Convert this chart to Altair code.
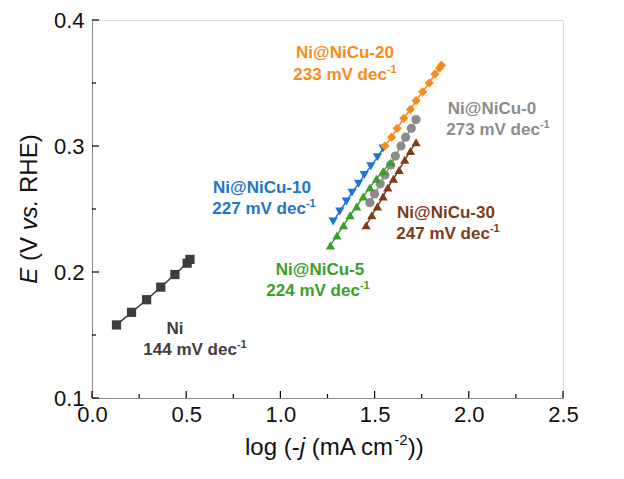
import altair as alt
import pandas as pd

# ---- Tafel data: log(-j) vs E for each catalyst ----
ni_x = [0.13, 0.21, 0.29, 0.365, 0.44, 0.505, 0.52]
ni_y = [0.158, 0.168, 0.178, 0.188, 0.198, 0.207, 0.210]

nicu0_x = [1.475, 1.50, 1.53, 1.555, 1.585, 1.61, 1.64, 1.665, 1.695, 1.72]
nicu0_y = [0.255, 0.262, 0.270, 0.277, 0.285, 0.292, 0.300, 0.307, 0.314, 0.321]

nicu5_x = [1.265, 1.30, 1.335, 1.37, 1.405, 1.44, 1.475, 1.51, 1.545, 1.585]
nicu5_y = [0.221, 0.229, 0.237, 0.245, 0.252, 0.260, 0.267, 0.274, 0.280, 0.287]

nicu10_x = [1.28, 1.315, 1.35, 1.38, 1.415, 1.445, 1.48, 1.515, 1.545]
nicu10_y = [0.240, 0.248, 0.256, 0.263, 0.270, 0.277, 0.284, 0.291, 0.298]

nicu20_x = [1.555, 1.59, 1.62, 1.655, 1.69, 1.72, 1.755, 1.79, 1.82, 1.845, 1.855]
nicu20_y = [0.300, 0.307, 0.314, 0.322, 0.329, 0.336, 0.343, 0.350, 0.357, 0.362, 0.364]

nicu30_x = [1.455, 1.485, 1.515, 1.545, 1.57, 1.60, 1.63, 1.66, 1.69, 1.72]
nicu30_y = [0.237, 0.245, 0.252, 0.260, 0.267, 0.274, 0.281, 0.289, 0.296, 0.303]

names = ["Ni", "Ni@NiCu-0", "Ni@NiCu-5", "Ni@NiCu-10", "Ni@NiCu-20", "Ni@NiCu-30"]
slopes = ["144", "273", "224", "227", "233", "247"]
colors = ["#3d3d3d", "#8c8c8c", "#3a9e2a", "#1c76cc", "#fb8a1c", "#7c3d17"]
shapes = ["square", "circle", "triangle-up", "triangle-down", "diamond", "triangle-up"]

x_ticks = [0.0, 0.5, 1.0, 1.5, 2.0, 2.5]
x_minor = [0.25, 0.75, 1.25, 1.75, 2.25]
y_ticks = [0.1, 0.2, 0.3, 0.4]
y_minor = [0.15, 0.25, 0.35]

xs_all = [ni_x, nicu0_x, nicu5_x, nicu10_x, nicu20_x, nicu30_x]
ys_all = [ni_y, nicu0_y, nicu5_y, nicu10_y, nicu20_y, nicu30_y]

rows = []
for name, xs, ys in zip(names, xs_all, ys_all):
    for xv, yv in zip(xs, ys):
        rows.append({"series": name, "logj": xv, "E": yv})
df = pd.DataFrame(rows)

W, H = 471, 378
LEFT, TOP = 92, 20
FONT = "Liberation Sans"

x_scale = alt.Scale(domain=[0, 2.5], nice=False, zero=False)
y_scale = alt.Scale(domain=[0.1, 0.4], nice=False, zero=False)
color_scale = alt.Scale(domain=names, range=colors)
shape_scale = alt.Scale(domain=names, range=shapes)

base = alt.Chart(df).encode(
    x=alt.X("logj:Q", scale=x_scale,
            axis=alt.Axis(values=x_ticks, format=".1f", ticks=False, grid=False,
                          title=None, labelFontSize=22, labelPadding=6,
                          labelFlush=False, labelFont=FONT, labelColor="#111111")),
    y=alt.Y("E:Q", scale=y_scale,
            axis=alt.Axis(values=y_ticks, format=".1f", ticks=False, grid=False,
                          title=None, labelFontSize=22, labelPadding=8,
                          labelFlush=False, labelFont=FONT, labelColor="#111111")),
    color=alt.Color("series:N", scale=color_scale, legend=None),
)

lines = base.mark_line(strokeWidth=1.5).encode(detail="series:N")
points = base.mark_point(filled=True, opacity=1, size=85).encode(
    shape=alt.Shape("series:N", scale=shape_scale, legend=None)
)

# inward tick marks
def xtick_layer(vals, length):
    return alt.Chart(pd.DataFrame({"v": vals})).mark_rule(color="black", strokeWidth=1.2).encode(
        x=alt.X("v:Q", scale=x_scale), y=alt.value(H), y2=alt.value(H - length))

def ytick_layer(vals, length):
    return alt.Chart(pd.DataFrame({"v": vals})).mark_rule(color="black", strokeWidth=1.2).encode(
        y=alt.Y("v:Q", scale=y_scale), x=alt.value(0), x2=alt.value(length))

ticks = [xtick_layer(x_ticks, 7), xtick_layer(x_minor, 4),
         ytick_layer(y_ticks, 7), ytick_layer(y_minor, 4)]

# character advance widths (Arial metrics, per 1000 em)
REG = {"l": 222, "o": 556, "g": 556, " ": 278, "(": 333, ")": 333, "-": 333,
       "j": 222, "m": 833, "A": 667, "c": 500, "2": 556, "E": 667, "V": 667, "v": 500,
       "s": 500, ".": 278, "R": 722, "H": 722}
BOLD = {" ": 278, "m": 889, "V": 667, "d": 611, "e": 556, "c": 556, "-": 333,
        "N": 722, "i": 278}
for d in "0123456789":
    BOLD[d] = 556


def tw(s, table, size):
    return sum(table.get(ch, 556) for ch in s) * size / 1000.0


def text(s, x, y, size, color="#111111", bold=False, italic=False, align="left",
         baseline="alphabetic", angle=0):
    kw = dict(text=s, fontSize=size, font=FONT, color=color, align=align,
              baseline=baseline, fontWeight="bold" if bold else "normal",
              fontStyle="italic" if italic else "normal")
    if angle:
        kw["angle"] = angle
    return alt.Chart(pd.DataFrame({"a": [0]})).mark_text(**kw).encode(
        x=alt.value(x), y=alt.value(y))


def run_pieces(parts, size):
    """Split styled pieces into (visible text, offset) with edge spaces as advances."""
    out, pos = [], 0.0
    for s, style in parts:
        lead = len(s) - len(s.lstrip(" "))
        core = s.strip(" ")
        start = pos + lead * REG[" "] * size / 1000.0
        out.append((core, start, style))
        pos += tw(s, REG, size)
    return out, pos


# axis titles built from pieces (italic symbols and superscript)
titles = []
ts = 24
x0 = 245 - LEFT
yb = 455 - TOP
xp, xend = run_pieces([("log (-", False), ("j", True), (" (mA cm", False)], ts)
for core, off, it in xp:
    titles.append(text(core, x0 + off, yb, ts, italic=it))
titles.append(text("-2", x0 + xend, yb - 10, 15))
titles.append(text("))", x0 + xend + tw("-2", REG, 15), yb, ts))

yp, ylen = run_pieces([("E", True), (" (V ", False), ("vs.", True), (" RHE)", False)], ts)
ystart = (TOP + H / 2) + ylen / 2 - TOP
for core, off, it in yp:
    titles.append(text(core, 30 - LEFT, ystart - off, ts, italic=it, angle=270,
                       baseline="middle"))

# series annotations: name and Tafel slope (mV dec^-1)
LS, SS = 17, 11
label_pos = {
    "Ni@NiCu-20": (345, 52, 345, 74),
    "Ni@NiCu-0": (492, 108, 498, 129),
    "Ni@NiCu-10": (262, 187, 264, 208),
    "Ni@NiCu-30": (446, 212, 448, 233),
    "Ni@NiCu-5": (320, 269, 318, 290),
    "Ni": (175, 328, 195, 349),
}
label_color = {"Ni": "#404040"}
annos = []
for name, slope, col in zip(names, slopes, colors):
    c1x, c1y, c2x, c2y = label_pos[name]
    col = label_color.get(name, col)
    annos.append(text(name, c1x - LEFT, c1y - TOP + 6, LS, color=col, bold=True, align="center"))
    main = f"{slope} mV dec"
    wm = tw(main, BOLD, LS)
    ws = tw("-1", BOLD, SS)
    sx = c2x - (wm + ws) / 2 - LEFT
    annos.append(text(main, sx, c2y - TOP + 6, LS, color=col, bold=True))
    annos.append(text("-1", sx + wm, c2y - TOP - 1, SS, color=col, bold=True))

chart = alt.layer(lines, points, *ticks, *titles, *annos).properties(
    width=W, height=H,
    padding={"left": LEFT, "top": TOP, "right": 624 - LEFT - W, "bottom": 479 - TOP - H},
    autosize=alt.AutoSizeParams(type="none"),
).configure_view(stroke="black", strokeWidth=1.2).configure_axis(
    domainColor="black", domainWidth=1.2
).configure(background="white")

chart.save("out.html", embed_options={"renderer": "svg", "actions": False})
